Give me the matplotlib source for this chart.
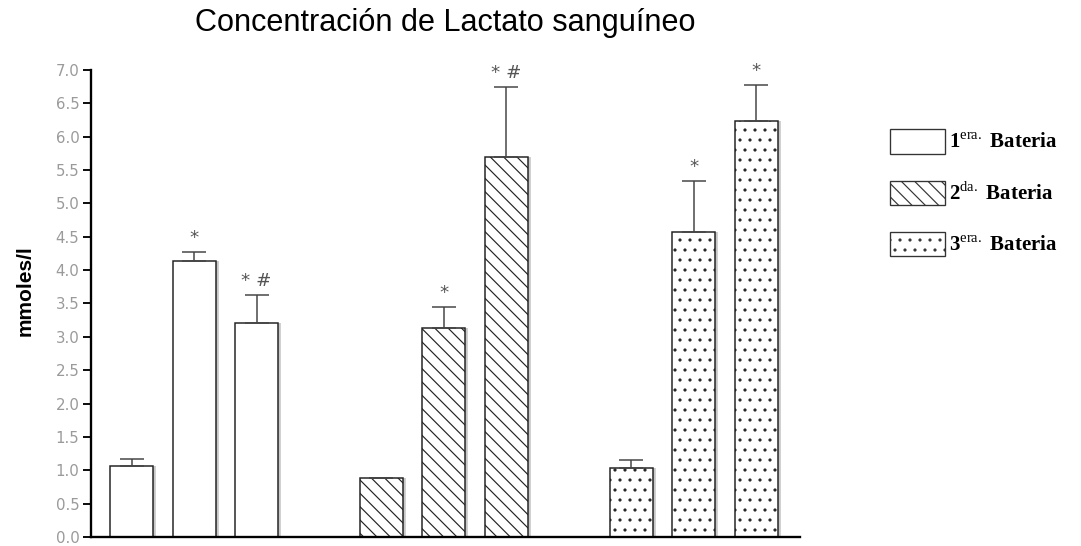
import numpy as np
import matplotlib.pyplot as plt
from matplotlib.patches import Patch

plt.rcParams['mathtext.fontset'] = 'custom'
plt.rcParams['mathtext.rm'] = 'Liberation Serif'
plt.rcParams['hatch.linewidth'] = 0.7

# lactate (mmol/l) per battery: three measurements each
baterias = ['1', '2', '3']
sufijos = ['era.', 'da.', 'era.']
bat1 = [1.07, 4.13, 3.20]
bat2 = [0.88, 3.13, 5.69]
bat3 = [1.03, 4.57, 6.23]
err1 = [0.10, 0.14, 0.42]
err2 = [0.00, 0.31, 1.06]
err3 = [0.12, 0.76, 0.54]
marcas1 = ['', '*', '* #']
marcas2 = ['', '*', '* #']
marcas3 = ['', '*', '*']

valores = [bat1, bat2, bat3]
errores = [err1, err2, err3]
marcas = [marcas1, marcas2, marcas3]
tramas = ['', '\\\\\\', '..']

fig = plt.figure(figsize=(1081 / 120, 546 / 120), dpi=120)
ax = fig.add_axes([0.0842, 0.0165, 0.6558, 0.8555])

for g in range(3):
    x = np.arange(3) + 4 * g
    ax.bar(x, valores[g], width=0.69, color='white', edgecolor='#222222',
           linewidth=0.9, hatch=tramas[g], zorder=2)
    # gray shadow on the right side of each bar
    ax.vlines(x + 0.36, 0, valores[g], color='#c8c8c8', linewidth=2.2, zorder=1)
    ax.errorbar(x, valores[g], yerr=[np.zeros(3), errores[g]], fmt='none',
                ecolor='#444444', elinewidth=0.9, capsize=7, capthick=0.9,
                zorder=3)
    for xi, v, e, m in zip(x, valores[g], errores[g], marcas[g]):
        if m:
            ax.annotate(m, (xi, v + e), xytext=(0, 3), textcoords='offset points',
                        ha='center', va='bottom', fontsize=11, color='#555555')

ax.set_xlim(-0.65, 10.7)
ax.set_ylim(0, 7)
ax.set_yticks(np.arange(0, 7.01, 0.5))
ax.set_yticklabels([f'{v:.1f}' for v in np.arange(0, 7.01, 0.5)])
ax.tick_params(axis='y', colors='#111111', labelcolor='#9a9a9a', labelsize=9,
               length=5, width=1.2, direction='out', pad=2)
ax.tick_params(axis='x', bottom=False, labelbottom=False)
ax.spines['top'].set_visible(False)
ax.spines['right'].set_visible(False)
ax.spines['left'].set_linewidth(1.4)
ax.spines['bottom'].set_linewidth(1.4)
ax.set_ylabel('mmoles/l', fontsize=12.5, fontweight='bold', family='Liberation Sans')
ax.yaxis.set_label_coords(-0.079, 0.527)

fig.text(0.412, 0.958, 'Concentración de Lactato sanguíneo', ha='center', va='center',
         fontsize=18.4, family='Liberation Sans')

handles = [Patch(facecolor='white', edgecolor='#333333', linewidth=0.8, hatch=t)
           for t in tramas]
labels = [f'{b}$^{{\\mathrm{{{s}}}}}$ Bateria' for b, s in zip(baterias, sufijos)]
fig.legend(handles, labels, loc='upper left', bbox_to_anchor=(0.814, 0.782),
           frameon=False, borderpad=0, handlelength=2.6, handleheight=1.4,
           handletextpad=0.2, labelspacing=1.3,
           prop={'family': 'Liberation Serif', 'weight': 'bold', 'size': 12.5})

fig.savefig('out.png', dpi=120)
